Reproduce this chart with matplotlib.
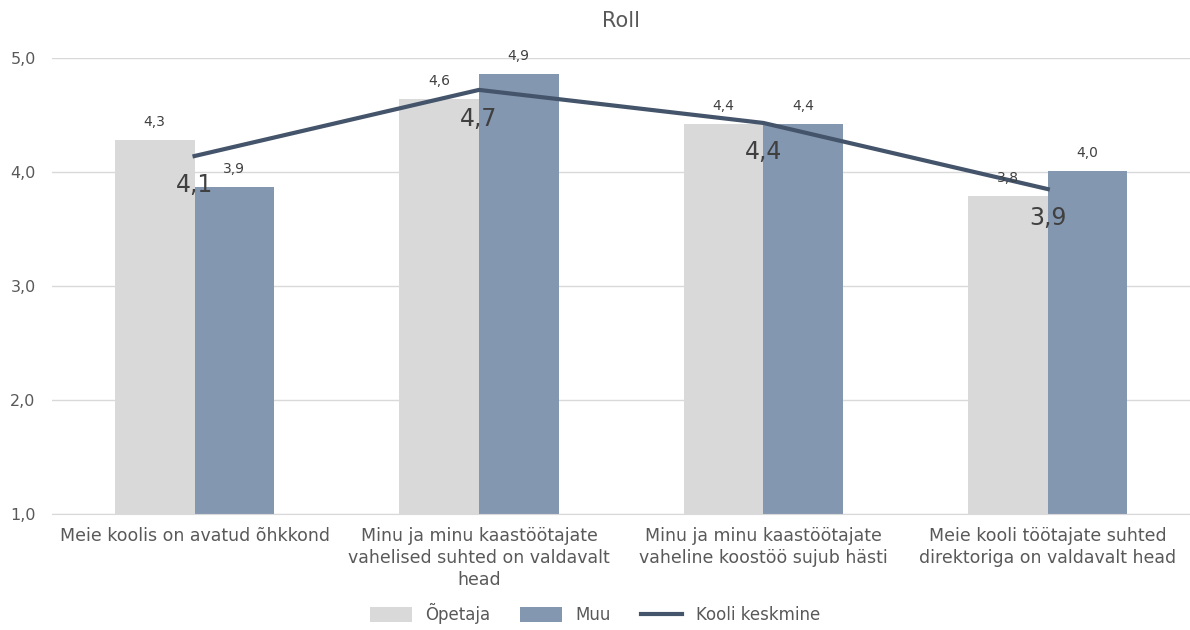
import matplotlib.pyplot as plt
import numpy as np

categories = [
    "Meie koolis on avatud õhkkond",
    "Minu ja minu kaastöötajate\nvahelised suhted on valdavalt\nhead",
    "Minu ja minu kaastöötajate\nvaheline koostöö sujub hästi",
    "Meie kooli töötajate suhted\ndirektoriga on valdavalt head",
]
opetaja = [4.28, 4.64, 4.42, 3.79]
muu = [3.87, 4.86, 4.42, 4.01]
keskmine = [4.14, 4.72, 4.43, 3.85]

plt.rcParams['font.family'] = ['DejaVu Sans']
txt = '#595959'

fig = plt.figure(figsize=(11.9, 6.3), dpi=100)
ax = fig.add_axes([0.044, 0.184, 0.956, 0.724])

x = np.arange(len(categories))
w = 0.28
b1 = ax.bar(x - w / 2, opetaja, w, color='#D9D9D9', label='Õpetaja', zorder=2)
b2 = ax.bar(x + w / 2, muu, w, color='#8497B0', label='Muu', zorder=2)
ln, = ax.plot(x, keskmine, color='#44546A', lw=3, label='Kooli keskmine', zorder=3)

for i in range(len(x)):
    ax.annotate(f"{opetaja[i]:.1f}".replace('.', ','), (x[i] - w / 2, opetaja[i]),
                xytext=(0, 8), textcoords='offset points', ha='center', va='bottom',
                fontsize=10, color='#404040', zorder=4)
    ax.annotate(f"{muu[i]:.1f}".replace('.', ','), (x[i] + w / 2, muu[i]),
                xytext=(0, 8), textcoords='offset points', ha='center', va='bottom',
                fontsize=10, color='#404040', zorder=4)
    ax.annotate(f"{keskmine[i]:.1f}".replace('.', ','), (x[i], keskmine[i]),
                xytext=(0, -12), textcoords='offset points', ha='center', va='top',
                fontsize=17, color='#404040', zorder=4)

ax.set_xlim(-0.5, len(x) - 0.5)
ax.set_ylim(1, 5)
ax.set_yticks([1, 2, 3, 4, 5])
ax.set_yticklabels([f"{v:.1f}".replace('.', ',') for v in [1, 2, 3, 4, 5]])
ax.set_xticks(x)
ax.set_xticklabels(categories, fontsize=12.5, color=txt, linespacing=1.3)
ax.tick_params(axis='y', labelsize=11.5, labelcolor=txt, length=0, pad=12)
ax.tick_params(axis='x', length=0, pad=9)
ax.grid(axis='y', color='#D9D9D9', lw=1, zorder=0)
for s in ['top', 'right', 'left']:
    ax.spines[s].set_visible(False)
ax.spines['bottom'].set_color('#D9D9D9')

ax.set_title('Roll', fontsize=15, color=txt, pad=22)
fig.legend([b1, b2, ln], ['Õpetaja', 'Muu', 'Kooli keskmine'],
           loc='lower center', bbox_to_anchor=(0.5, -0.015), ncol=3, frameon=False,
           fontsize=12, labelcolor=txt, handlelength=2.5, handleheight=1.0,
           columnspacing=1.8)

fig.savefig('out.png')
